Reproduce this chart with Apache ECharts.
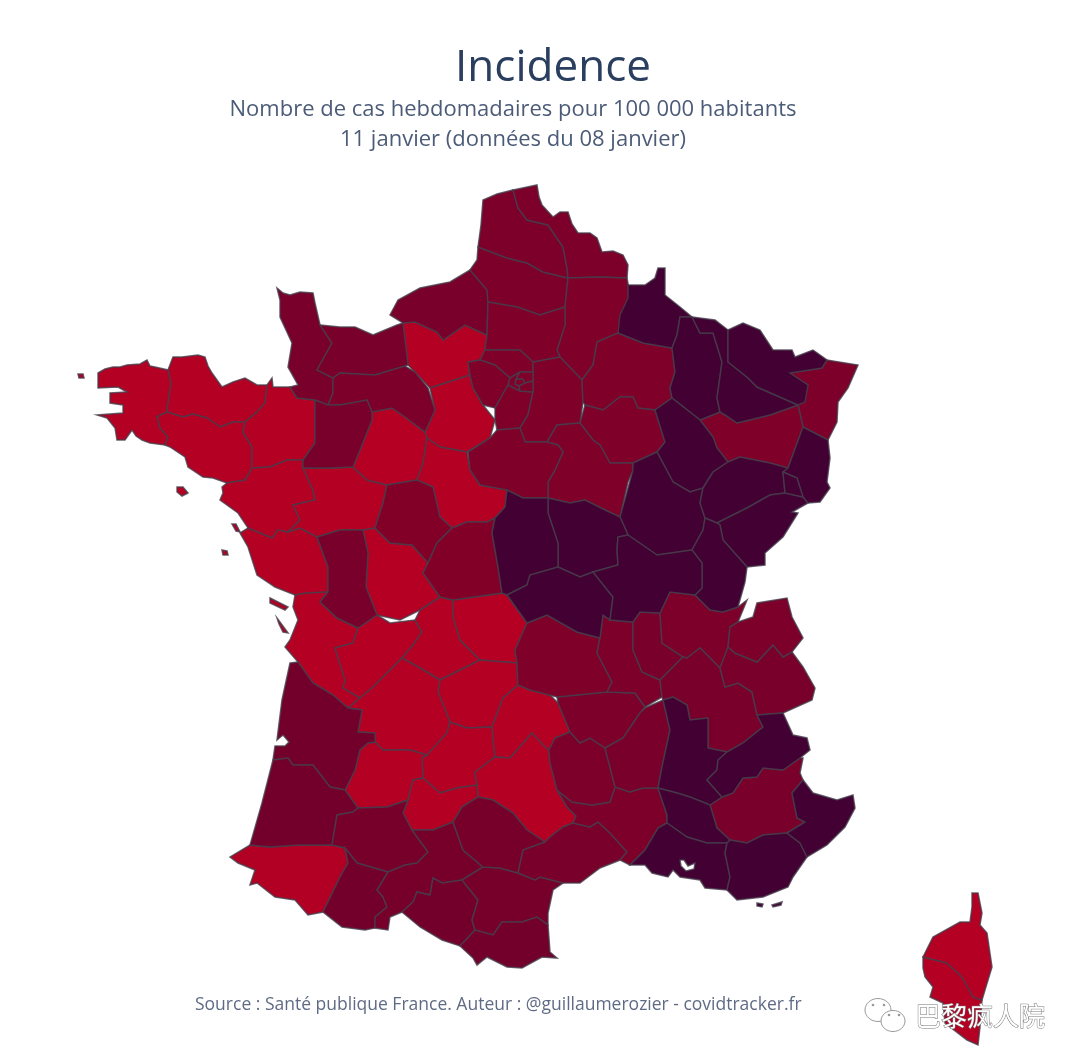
<!DOCTYPE html>
<html>
<head>
<meta charset="utf-8">
<title>Incidence</title>
<script src="https://cdn.jsdelivr.net/npm/echarts@6/dist/echarts.min.js"></script>
<style>
  html, body { margin: 0; padding: 0; background: #fff; }
  #main { width: 1080px; height: 1063px; filter: blur(0.7px); }
</style>
</head>
<body>
<div id="main"></div>
<script>
// weekly cases per 100 000, estimated from the colour of each department
const deptCodes = ['29','22','56','35','44','85','49','72','27','28','41','86','17','16','87','23','19','24','46','47','15','12','82','64','2A','2B',
  '50','14','61','53','76','80','62','59','02','60','95','78','91','77','75','92','93','94','51','10','89','45','37','36','79','33','40','32','65','31','09','11','66','81','34','30','48','43','07','63','42','69','01','38','73','74','04','67','88',
  '08','55','54','57','52','21','70','25','39','68','90','58','18','03','71','26','05','84','13','83','06'];
const deptValues = [108,108,106,108,106,106,106,104,106,108,106,104,106,104,106,104,106,106,106,106,106,106,108,112,108,108,
  205,205,200,205,205,200,200,200,195,195,195,195,195,195,195,195,195,195,195,195,195,195,190,190,205,215,215,210,215,210,215,210,215,210,205,200,200,200,205,195,200,205,200,205,205,200,205,200,195,
  295,295,295,295,295,295,295,295,295,295,295,295,295,295,295,295,295,295,295,295,295];

// department outlines, traced in picture units (x,y); lakes are listed in deptHoles
const deptShapes = {
  '29': ['98,373 105,369 113,367 120,367 127,365 140,364 147,360 150,366 155,367 168,370 171,383 168,403 167,412 157,417 160,428 168,437 165,445 150,443 142,440 136,436 132,430 125,440 117,440 115,428 107,418 97,415 123,413 123,405 110,403 110,393 127,392 118,387 98,388',
         '78,374 83,374 84,378 79,378'],
  '22': ['168,370 173,357 182,357 190,356 198,355 205,357 208,366 212,373 222,387 233,382 245,378 257,385 267,385 265,403 257,412 245,422 233,422 220,427 207,418 193,414 183,417 167,412 168,403 171,383'],
  '35': ['267,385 272,378 273,387 290,387 297,398 315,400 315,443 303,460 287,460 270,467 252,468 252,447 243,432 245,422 257,412 265,403'],
  '56': ['157,417 167,412 183,417 193,414 207,418 220,427 233,422 245,422 243,432 252,447 252,468 248,475 245,480 227,483 213,478 203,477 188,467 185,457 170,447 165,445 168,437 160,428',
         '177,487 183,487 188,493 182,496 177,492'],
  '44': ['227,483 245,480 248,475 252,468 270,467 287,460 303,460 303,468 313,490 315,500 293,505 300,520 288,532 278,530 272,538 248,528 238,513 220,500 223,493 222,487',
         '232,524 236,524 240,532 236,531'],
  '85': ['240,533 248,528 272,538 278,530 288,532 300,528 317,537 328,567 328,592 307,593 295,595 275,587 257,575 248,547',
         '222,550 227,551 228,555 223,555'],
  '49': ['303,468 330,468 353,467 367,480 387,485 383,503 375,528 363,530 340,530 317,537 300,528 288,532 300,520 293,505 315,500 313,490'],
  '53': ['315,400 328,405 340,405 367,400 372,412 372,420 360,450 353,467 330,468 303,468 303,460 315,443'],
  '72': ['353,467 360,450 372,420 372,412 392,408 405,417 425,432 427,438 423,463 417,480 387,485 367,480'],
  '50': ['277,288 283,293 290,295 300,292 313,293 315,303 320,325 332,343 317,370 333,378 333,393 328,405 315,400 297,398 290,387 298,385 288,367 292,343 280,317 280,300'],
  '14': ['320,325 340,327 355,327 373,335 397,325 403,323 408,365 405,366 375,375 340,373 333,378 317,370 332,343'],
  '61': ['340,373 375,375 405,366 415,372 428,388 435,410 425,432 405,417 392,408 372,412 367,400 340,405 328,405 333,393 333,378'],
  '27': ['403,323 415,322 437,332 443,340 465,325 487,335 485,350 480,360 468,362 470,375 430,388 415,372 408,365'],
  '28': ['430,388 470,375 473,388 483,405 495,420 490,438 467,452 440,447 427,438 425,432 435,410'],
  '76': ['390,315 398,300 420,288 450,282 470,270 487,290 488,302 487,335 465,325 443,340 437,332 415,322 403,323'],
  '80': ['470,270 477,260 478,247 507,258 527,263 543,272 568,278 565,307 540,315 517,307 488,302 487,290'],
  '62': ['478,247 481,225 483,200 497,194 513,190 518,208 527,220 548,225 563,247 567,268 568,278 543,272 527,263 507,258'],
  '59': ['513,190 537,185 539,197 542,205 553,217 560,212 568,212 572,224 578,233 590,233 597,238 602,252 613,251 623,255 628,265 627,278 600,277 568,278 567,268 563,247 548,225 527,220 518,208'],
  '02': ['568,278 600,277 627,278 630,295 618,333 597,342 593,365 582,380 560,357 557,350 565,325 565,307'],
  '60': ['488,302 517,307 540,315 565,307 565,325 557,350 560,357 533,362 520,350 485,350 487,335'],
  '95': ['480,360 485,350 520,350 533,362 533,372 520,372 510,378 495,365'],
  '78': ['468,362 480,360 495,365 510,378 508,385 495,408 483,405 473,388 470,375'],
  '91': ['508,385 520,391 533,392 528,415 520,428 497,430 495,420 495,408'],
  '77': ['533,362 560,357 582,380 583,402 580,423 557,425 547,442 525,442 520,428 528,415 533,392'],
  '75': ['516,379 523,379 525,383 519,386 515,384'],
  '92': ['510,378 520,372 516,379 515,384 519,386 520,391 508,385'],
  '93': ['520,372 533,372 533,381 525,383 523,379 516,379'],
  '94': ['525,383 533,381 533,392 520,391 519,386'],
  '51': ['582,380 593,365 597,342 618,333 643,343 672,348 675,372 670,388 672,398 655,410 638,408 633,397 620,397 603,410 585,405 583,402'],
  '10': ['580,423 585,405 603,410 620,397 633,397 638,408 655,410 665,442 657,452 633,463 610,463 600,445 593,440'],
  '89': ['547,442 557,425 580,423 593,440 600,445 610,463 633,463 633,470 628,482 620,517 605,510 585,500 570,503 548,498 548,482 555,470 563,452 558,445'],
  '45': ['468,452 490,438 497,430 520,428 525,442 547,442 558,445 563,452 555,470 548,482 548,498 523,498 507,490 480,485 470,470'],
  '41': ['427,438 440,447 467,452 470,470 480,485 507,490 505,507 495,518 487,522 467,522 452,528 440,517 433,487 417,480 423,463'],
  '37': ['387,485 417,480 433,487 440,517 452,528 437,543 428,563 412,545 390,543 375,528 383,503'],
  '36': ['452,528 467,522 487,522 495,518 492,533 498,567 502,593 453,600 440,597 423,573 428,563 437,543'],
  '86': ['363,530 375,528 390,543 412,545 428,563 423,573 440,597 420,610 400,620 377,615 366,587 368,553'],
  '79': ['317,537 340,530 363,530 368,553 366,587 377,615 358,628 337,618 320,602 328,592 328,567'],
  '17': ['295,595 307,593 328,592 320,602 337,618 358,628 353,643 335,648 345,680 343,688 360,698 348,708 333,695 313,683 298,662 285,647 290,640 298,620 293,607',
         '270,598 288,607 285,610 270,603', '277,618 288,633 283,632 279,624'],
  '16': ['335,648 353,643 358,628 377,615 390,623 415,620 422,632 413,645 402,658 383,677 373,687 360,698 343,688 345,680'],
  '87': ['415,620 420,610 440,597 453,600 453,617 460,640 480,660 460,670 440,680 420,668 402,658 413,645 422,632'],
  '23': ['453,600 502,593 507,595 527,623 515,650 517,663 480,660 460,640 453,617'],
  '19': ['440,680 460,670 480,660 517,663 518,685 503,698 492,727 467,728 450,722 448,717 438,692'],
  '24': ['360,698 373,687 383,677 402,658 420,668 440,680 438,692 448,717 450,722 447,733 427,755 410,750 383,750 375,742 375,733 358,732 362,710 348,708'],
  '46': ['450,722 467,728 492,727 495,757 475,772 477,785 457,788 440,793 423,778 422,758 427,755 447,733'],
  '47': ['375,742 383,750 410,750 427,755 422,758 423,778 413,780 408,800 387,807 358,808 345,790 355,770 360,750 368,743'],
  '82': ['413,780 423,778 440,793 457,788 477,785 478,797 462,807 453,822 433,830 412,830 403,813 408,800'],
  '12': ['475,772 495,757 510,758 532,733 545,747 549,750 550,763 557,790 567,807 576,816 573,823 563,827 550,837 545,842 527,830 513,813 493,800 478,797 477,785'],
  '15': ['518,685 530,690 550,695 558,703 570,732 555,738 549,750 545,747 532,733 510,758 495,757 492,727 503,698'],
  '48': ['549,750 555,738 570,732 580,743 590,738 605,748 615,787 610,802 592,805 572,802 557,790 550,763'],
  '07': ['605,748 623,738 640,713 645,708 663,700 670,730 662,767 658,788 643,788 630,792 615,787'],
  '43': ['558,703 557,697 607,692 635,693 645,707 645,708 640,713 623,738 605,748 590,738 580,743 570,732'],
  '30': ['576,816 567,807 557,790 572,802 592,805 610,802 615,787 630,792 643,788 658,788 667,815 667,823 658,828 645,850 630,865 620,860 627,852 610,833 598,822 590,827 573,823'],
  '34': ['545,842 550,837 563,827 573,823 590,827 598,822 610,833 627,852 620,860 600,868 580,883 563,883 540,877 535,880 518,873 523,850'],
  '81': ['478,797 493,800 513,813 527,830 545,842 523,850 518,873 500,868 483,867 463,850 453,822 462,807'],
  '11': ['462,880 483,867 500,868 518,873 535,880 540,877 563,883 553,890 548,913 548,925 537,917 522,922 502,922 493,935 475,930 472,920 478,900'],
  '66': ['460,946 475,930 493,935 502,922 522,922 537,917 548,925 550,952 557,958 542,957 522,968 507,967 487,957 477,965 473,958'],
  '09': ['402,912 413,902 417,892 430,895 433,878 442,883 462,880 478,900 472,920 475,930 460,946 442,940 420,927'],
  '31': ['388,872 405,865 417,863 428,852 412,830 433,830 453,822 463,850 483,867 462,880 442,883 433,878 430,895 417,892 413,902 402,912 390,917 388,930 375,928 375,917 387,907 383,897 377,890'],
  '65': ['345,848 357,863 388,872 377,890 383,897 387,907 375,917 375,928 365,930 342,927 323,912 340,877 348,863'],
  '64': ['250,845 270,847 297,845 332,845 345,848 348,863 340,877 323,912 308,915 295,900 275,897 257,883 250,885 255,870 238,863 230,857'],
  '40': ['273,760 288,758 293,765 313,765 330,787 345,790 358,808 353,812 337,815 332,845 297,845 270,847 250,845 262,803'],
  '33': ['290,663 298,662 313,683 333,695 348,708 362,710 358,732 375,733 375,742 368,743 360,750 355,770 345,790 330,787 313,765 293,765 288,758 273,760 275,746 285,746 289,742 283,735 277,740 282,700'],
  '32': ['337,815 353,812 358,808 387,807 408,800 403,813 412,830 428,852 417,863 405,865 388,872 357,863 345,848 332,845'],
  '63': ['527,623 547,615 577,632 600,638 597,653 612,682 607,692 557,697 530,690 518,685 517,663 515,650'],
  '42': ['603,615 610,620 633,622 633,650 642,672 660,680 662,697 645,707 635,693 607,692 612,682 597,653 600,638'],
  '69': ['640,612 660,613 662,643 683,657 667,673 660,680 642,672 633,650 633,622'],
  '01': ['670,592 695,595 710,610 723,612 738,607 747,600 738,622 730,627 728,647 720,668 700,648 687,658 683,657 662,643 660,613'],
  '74': ['738,622 753,617 757,603 787,598 792,617 803,638 792,652 783,657 773,645 757,662 735,653 728,647 730,627'],
  '73': ['728,647 735,653 757,662 773,645 783,657 792,652 803,667 815,688 812,700 783,713 757,715 752,692 738,683 725,687 720,668'],
  '38': ['683,657 687,658 700,648 720,668 725,687 738,683 752,692 757,715 763,727 743,743 727,752 708,748 708,718 690,720 687,705 673,697 663,700 662,697 660,680 667,673'],
  '26': ['663,700 673,697 687,705 690,720 708,718 708,748 727,752 718,760 717,770 707,780 722,797 710,805 690,797 677,793 658,788 662,767 670,730'],
  '05': ['757,715 783,713 793,735 807,738 810,750 800,758 783,770 763,768 757,777 743,778 733,793 722,797 707,780 717,770 718,760 727,752 743,743 763,727'],
  '04': ['743,778 757,777 763,768 783,770 800,758 803,758 800,773 803,780 792,793 797,818 805,822 787,833 763,835 747,843 730,840 717,828 710,805 722,797 733,793'],
  '06': ['803,780 813,793 837,800 853,795 855,808 845,827 827,845 807,857 800,843 787,833 805,822 797,818 792,793'],
  '83': ['787,833 800,843 807,857 793,877 788,887 763,897 737,900 727,890 730,877 725,853 727,843 730,840 747,843 763,835',
         '757,903 763,904 762,907 757,906', '772,905 782,902 781,905 773,907'],
  '13': ['667,823 687,837 707,843 727,843 725,853 730,877 727,890 705,888 700,880 680,877 673,870 668,877 652,873 645,865 630,865 645,850 658,828'],
  '84': ['658,788 677,793 690,797 710,805 717,828 730,840 727,843 707,843 687,837 667,823 667,815'],
  '67': ['790,373 822,368 827,360 858,365 848,388 838,402 837,422 828,440 803,427 798,405 808,385'],
  '88': ['700,420 720,412 725,415 737,423 770,415 798,405 803,427 788,468 770,463 740,457 728,462 717,448 713,437'],
  '08': ['618,333 620,315 628,298 628,285 645,285 655,278 658,268 665,268 665,295 680,307 692,317 680,317 677,335 672,348 643,343'],
  '55': ['680,317 692,317 700,333 713,333 722,362 717,398 720,412 700,420 672,398 670,388 675,372 672,348 677,335'],
  '54': ['692,317 715,320 728,330 728,362 748,378 757,387 798,405 770,415 737,423 725,415 720,412 717,398 722,362 713,333 700,333'],
  '57': ['728,330 743,323 760,330 773,350 792,350 795,357 813,350 827,360 822,368 790,373 808,385 805,402 798,405 757,387 748,378 728,362'],
  '52': ['672,398 700,420 713,437 717,448 728,462 713,472 703,488 690,492 673,482 657,452 665,442 655,410'],
  '21': ['633,470 633,463 657,452 673,482 690,492 703,488 700,503 705,518 703,530 692,550 657,555 628,535 620,517'],
  '70': ['728,462 740,457 770,463 788,468 783,472 785,493 770,495 747,508 717,523 705,518 700,503 703,488 713,472'],
  '25': ['717,523 747,508 770,495 785,493 803,497 808,503 792,512 798,513 783,537 765,553 765,565 747,567 723,540 720,525'],
  '39': ['705,518 717,523 720,525 723,540 747,567 745,582 738,607 723,612 710,610 695,595 702,588 702,563 692,550 703,530'],
  '68': ['803,427 828,440 830,458 827,482 830,488 820,502 808,503 803,497 797,478 783,472 788,468'],
  '90': ['783,472 797,478 803,497 785,493'],
  '58': ['548,498 570,503 585,500 605,510 620,517 628,535 618,537 617,550 618,565 593,572 580,577 558,567 558,543 548,513'],
  '18': ['507,490 523,498 548,498 548,513 558,543 558,567 530,575 527,585 507,595 502,593 498,567 492,533 495,518 505,507'],
  '03': ['507,595 527,585 530,575 558,567 580,577 593,572 613,597 610,620 603,615 600,638 577,632 547,615 527,623'],
  '71': ['628,535 657,555 692,550 702,563 702,588 695,595 670,592 660,613 640,612 633,622 610,620 613,597 593,572 618,565 617,550 618,537'],
  '2B': ['972,893 978,893 982,913 980,925 987,933 992,967 985,990 982,1000 973,997 962,977 947,963 923,957 933,937 960,922 970,922 972,907'],
  '2A': ['923,957 947,963 962,977 973,997 982,1000 980,1027 978,1045 967,1040 945,1023 943,1003 930,997 933,987 925,977 923,968']
};
const deptHoles = {
  '13': ['681,866 686,871 694,869 695,863 688,866 684,860 680,860']
};

function parseRing(text) {
  return text.split(' ').map(function (p) {
    const xy = p.split(',');
    return [+xy[0], -xy[1]];
  });
}

const features = deptCodes.map(function (code) {
  const polys = deptShapes[code].map(function (ring) { return [parseRing(ring)]; });
  (deptHoles[code] || []).forEach(function (h) { polys[0].push(parseRing(h)); });
  return {
    type: 'Feature',
    properties: { name: code },
    geometry: { type: 'MultiPolygon', coordinates: polys }
  };
});
echarts.registerMap('france', { type: 'FeatureCollection', features: features });

const bubbleStyle = { fill: '#fff', stroke: '#999', lineWidth: 1 };
const eyeStyle = { fill: '#999' };

var myChart = echarts.init(document.getElementById('main'));
var option = {
  animation: false,
  backgroundColor: '#fff',
  title: [
    { text: 'Incidence', left: 548, top: 41, textAlign: 'center',
      textStyle: { fontFamily: 'Open Sans', fontSize: 44, fontWeight: 'normal', color: '#2a3f5f' } },
    { text: 'Nombre de cas hebdomadaires pour 100 000 habitants', left: 508, top: 94, textAlign: 'center',
      textStyle: { fontFamily: 'Open Sans', fontSize: 22, fontWeight: 'normal', color: '#4c5c78' } },
    { text: '11 janvier (données du 08 janvier)', left: 508, top: 124, textAlign: 'center',
      textStyle: { fontFamily: 'Open Sans', fontSize: 22, fontWeight: 'normal', color: '#4c5c78' } },
    { text: 'Source : Santé publique France. Auteur : @guillaumerozier - covidtracker.fr', left: 190, top: 991,
      textStyle: { fontFamily: 'Open Sans', fontSize: 17.5, fontWeight: 'normal', color: '#5f6b85' } },
    { text: '巴黎疯人院', left: 910, top: 998,
      textStyle: { fontFamily: 'Noto Sans CJK SC', fontSize: 26, fontWeight: 'normal', color: '#fff', textBorderColor: '#777', textBorderWidth: 1 } }
  ],
  // wechat mark beside the watermark
  graphic: [
    { type: 'ellipse', z: 10, shape: { cx: 878, cy: 1010, rx: 13, ry: 11.5 }, style: bubbleStyle },
    { type: 'circle', z: 10, shape: { cx: 873, cy: 1005, r: 1.3 }, style: eyeStyle },
    { type: 'circle', z: 10, shape: { cx: 884, cy: 1005, r: 1.3 }, style: eyeStyle },
    { type: 'ellipse', z: 11, shape: { cx: 893, cy: 1021, rx: 12, ry: 10.5 }, style: bubbleStyle },
    { type: 'circle', z: 11, shape: { cx: 889, cy: 1015, r: 1.3 }, style: eyeStyle },
    { type: 'circle', z: 11, shape: { cx: 899, cy: 1015, r: 1.3 }, style: eyeStyle }
  ],
  visualMap: {
    show: false,
    type: 'continuous',
    min: 100,
    max: 300,
    inRange: { color: ['#b80023', '#7c0029', '#3f0033'] }
  },
  series: [{
    type: 'map',
    map: 'france',
    silent: true,
    roam: false,
    aspectScale: 1,
    boundingCoords: [[0, 0], [1080, -1063]],
    left: 0,
    top: 0,
    width: 1080,
    height: 1063,
    label: { show: false },
    itemStyle: { borderColor: 'rgba(70,60,75,0.8)', borderWidth: 1.5 },
    data: deptCodes.map(function (code, i) { return { name: code, value: deptValues[i] }; })
  }]
};
option && myChart.setOption(option);
</script>
</body>
</html>
